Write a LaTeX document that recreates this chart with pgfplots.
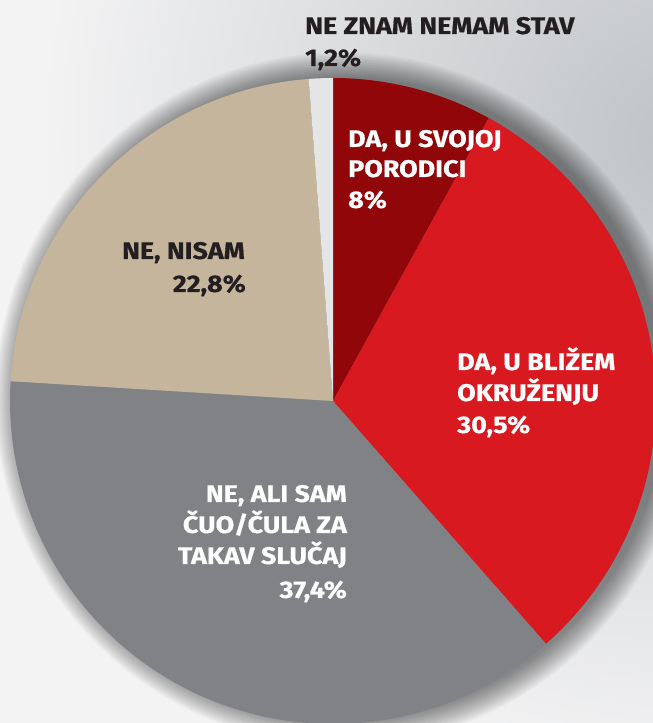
\documentclass[border=0pt]{standalone}
\usepackage{pgfplots}
\pgfplotsset{compat=1.18}
\usepackage{pgfplotstable}
\usepackage{fontspec}
\setmainfont{Fira Sans}[BoldFeatures={FakeStretch=1.12,FakeBold=0.6}]
\definecolor{dred}{HTML}{910709}
\definecolor{bred}{HTML}{D81920}
\definecolor{pgray}{HTML}{808285}
\definecolor{pbeige}{HTML}{C4B59C}
\definecolor{plgray}{HTML}{E4E5E7}
\definecolor{txt}{HTML}{231F20}
\definecolor{bgw}{HTML}{F3F3F4}
\definecolor{bgg}{HTML}{C0C3C6}

\pgfplotstableread{
label value
svojoj 8
blizem 30.5
cuo 37.4
nisam 22.8
neznam 1.2
}\piedata
\pgfplotstablegetelem{0}{value}\of\piedata \let\va\pgfplotsretval
\pgfplotstablegetelem{1}{value}\of\piedata \let\vb\pgfplotsretval
\pgfplotstablegetelem{2}{value}\of\piedata \let\vc\pgfplotsretval
\pgfplotstablegetelem{3}{value}\of\piedata \let\vd\pgfplotsretval
\pgfplotstablegetelem{4}{value}\of\piedata \let\ve\pgfplotsretval
\pgfmathsetmacro\tot{\va+\vb+\vc+\vd+\ve}
\pgfmathsetmacro\aA{90}
\pgfmathsetmacro\aB{\aA-360*\va/\tot}
\pgfmathsetmacro\aC{\aB-360*\vb/\tot}
\pgfmathsetmacro\aD{\aC-360*\vc/\tot}
\pgfmathsetmacro\aE{\aD-360*\vd/\tot}
\pgfmathsetmacro\aF{\aE-360*\ve/\tot}
\newcommand\slice[3]{\fill[#1] (axis cs:333,-401) -- ++(#2:323pt) arc[start angle=#2, end angle=#3, radius=323pt] -- cycle;}
\newcommand\lbl[5]{\node[anchor=base #1, inner sep=0pt, text=#4, font=\fontsize{24}{28}\selectfont\bfseries] at (axis cs:#2,-#3) {#5};}

\begin{document}
\begin{tikzpicture}
\begin{axis}[
  width=653pt, height=723pt, scale only axis,
  xmin=0, xmax=653, ymin=-723, ymax=0,
  axis lines=none, ticks=none, clip=true,
]
\coordinate (SW) at (rel axis cs:0,0);
\coordinate (NE) at (rel axis cs:1,1);
\fill[bgw] (axis cs:0,-723) rectangle (axis cs:653,0);
\shade[inner color=bgg, outer color=bgw] (axis cs:680,-140) circle[radius=640pt];
\pgfplotsinvokeforeach{1,...,16}{
  \fill[black, opacity=0.032] (axis cs:342,-399) circle[radius=321pt+1.6pt*#1];
}
\slice{dred}{\aA}{\aB}
\slice{bred}{\aB}{\aC}
\slice{pgray}{\aC}{\aD}
\slice{pbeige}{\aD}{\aE}
\slice{plgray}{\aE}{\aF}
\lbl{west}{305}{34}{txt}{NE ZNAM NEMAM STAV}
\lbl{west}{305}{66}{txt}{1,2\%}
\lbl{west}{348}{147}{white}{DA, U SVOJOJ}
\lbl{west}{348}{177}{white}{PORODICI}
\lbl{west}{348}{208}{white}{8\%}
\lbl{west}{457}{370}{white}{DA, U BLIŽEM}
\lbl{west}{457}{401}{white}{OKRUŽENJU}
\lbl{west}{457}{433}{white}{30,5\%}
\lbl{east}{245}{259}{txt}{NE, NISAM}
\lbl{east}{246}{292}{txt}{22,8\%}
\lbl{east}{347}{502}{white}{NE, ALI SAM}
\lbl{east}{347}{533}{white}{ČUO/ČULA ZA}
\lbl{east}{347}{564}{white}{TAKAV SLUČAJ}
\lbl{east}{347}{598}{white}{37,4\%}
\end{axis}
\pgfresetboundingbox
\useasboundingbox (SW) rectangle (NE);
\end{tikzpicture}
\end{document}
